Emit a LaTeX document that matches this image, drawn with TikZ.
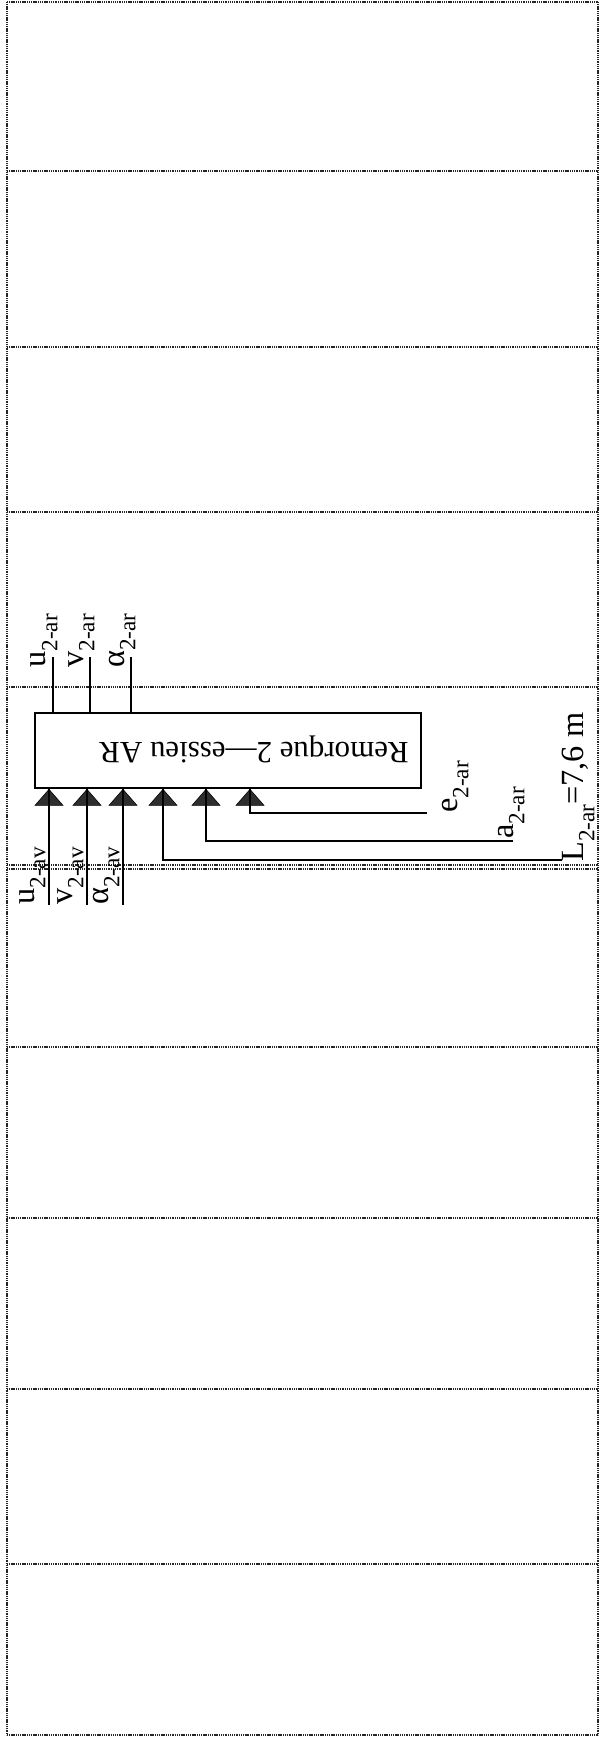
\documentclass[tikz,border=0pt]{standalone}
\usepackage{fontspec}
\setmainfont{Liberation Serif}
\usepackage{tikz}
\usetikzlibrary{shapes.geometric}
\definecolor{scanline}{HTML}{262626}
\definecolor{scanfill}{HTML}{2E2E2E}
\newcommand{\sbs}[1]{\raisebox{-0.35em}{\fontsize{16.5}{16.5}\selectfont #1}}

\begin{document}
\begin{tikzpicture}[x=0.025cm, y=-0.025cm,
    rowline/.style={draw=scanline, line width=1.6pt, dash pattern=on 0.8pt off 0.5pt},
    blockbox/.style={draw, line width=0.8pt, minimum width=9.65cm, minimum height=1.875cm, inner sep=0pt},
    intri/.style={isosceles triangle, isosceles triangle stretches=true, fill=scanfill, draw=black,
                  line width=0.4pt, rotate=90, minimum width=0.7cm, minimum height=0.4cm, inner sep=0pt},
    lbl/.style={rotate=90, anchor=base west, inner sep=0pt, font=\fontsize{23}{27}\selectfont},
    wire/.style={line width=0.8pt}
]
  \useasboundingbox (0,0) rectangle (600,1737);

  % Rahmen und Zeilen
  \draw[rowline] (7,2) -- (7,1735);
  \draw[rowline] (598,2) -- (598,1735);
  \foreach \yy in {2,171,347,512,687,865,869,1047,1218,1389,1564,1735}
    \draw[rowline] (7,\yy) -- (598,\yy);

  % Block
  \node[blockbox] (rem) at (228,750.5) {};
  \node[rotate=180, anchor=base, inner sep=0pt, font=\fontsize{22}{26}\selectfont] (remtxt) at (254,742) {Remorque 2—essieu AR};

  % Ausgaenge oben
  \foreach \xx/\nm/\txt in {53/u/u, 90/v/v, 131/al/α} {
    \coordinate (o\nm) at (\xx,657);
    \draw[wire] (o\nm) -- (o\nm |- rem.north);
    \node[lbl] (lo\nm) at (\xx-7,668) {\txt\sbs{2-ar}};
  }

  % Eingaenge unten
  \foreach \xx [count=\i] in {49,87,123,163,206,250}
    \node[intri] (t\i) at (\xx,799) {};

  \foreach \i/\xx/\txt in {1/49/u, 2/87/v, 3/123/α} {
    \coordinate (i\i) at (\xx,905);
    \draw[wire] (t\i.apex) -- (i\i);
    \node[lbl] (li\i) at (\xx-15,905) {\txt\sbs{2-av}};
  }

  \coordinate (eend) at (427,813);
  \coordinate (aend) at (513,841);
  \coordinate (lend) at (562,860);
  \draw[wire] (t6.apex) |- (eend);
  \draw[wire] (t5.apex) |- (aend);
  \draw[wire] (t4.apex) |- (lend);

  \node[lbl] (le) at (457,813) {e\sbs{2-ar}};
  \node[lbl] (la) at (513,839) {a\sbs{2-ar}};
  \node[lbl] (lL) at (583,862) {L\sbs{2-ar}=7,6 m};

\end{tikzpicture}
\end{document}
